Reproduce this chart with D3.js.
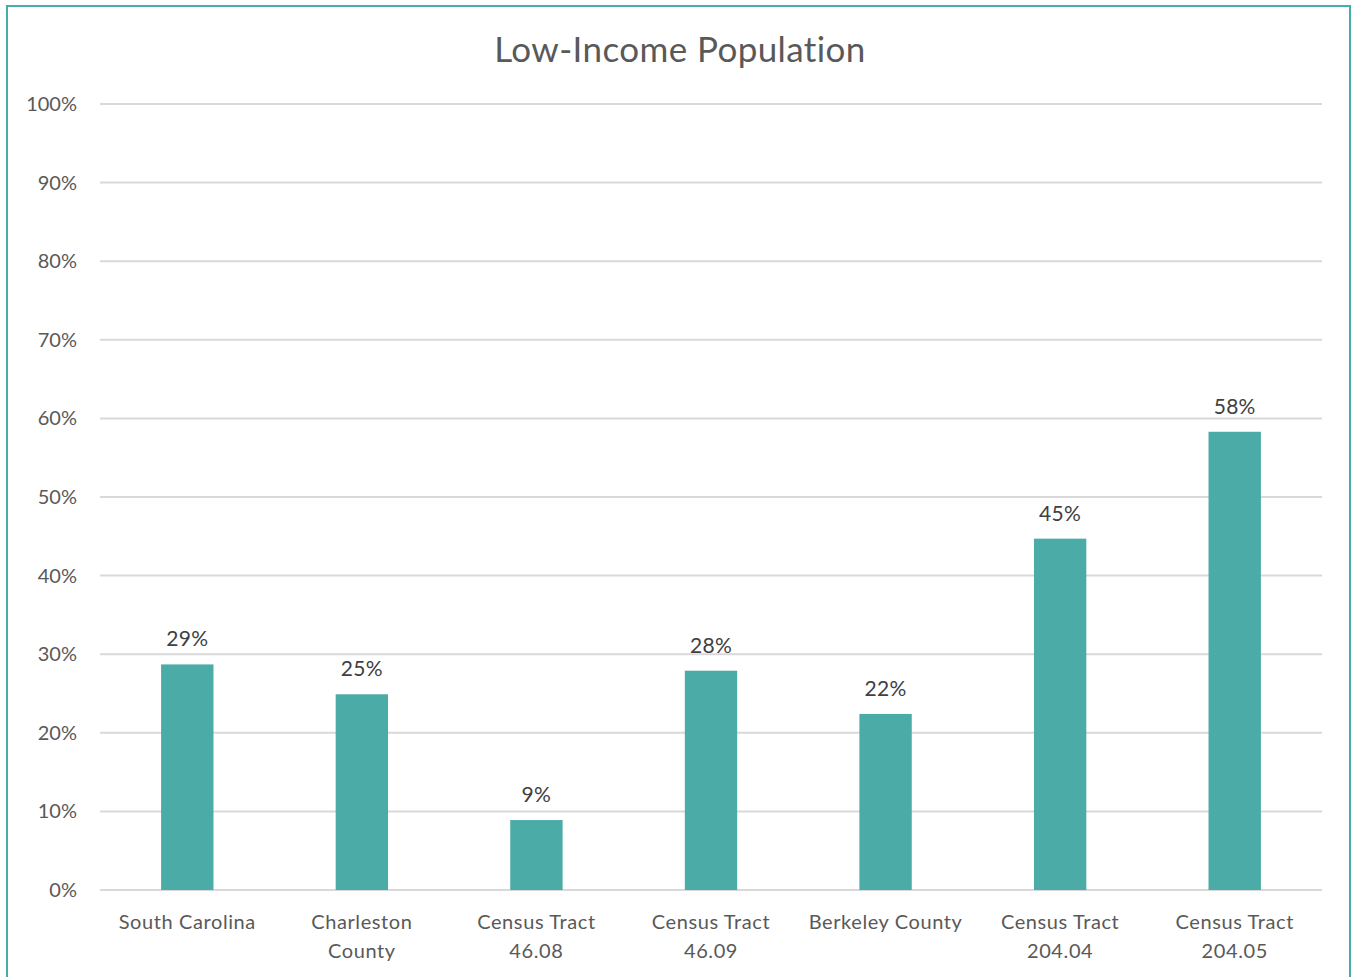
<!DOCTYPE html>
<html>
<head>
<meta charset="utf-8">
<script src="https://cdn.jsdelivr.net/npm/d3@7.9.0/dist/d3.min.js"></script>
<style>
  body { margin: 0; background: #fff; }
  svg { display: block; font-family: Lato, "Open Sans", sans-serif; font-variant-ligatures: none; }
</style>
</head>
<body>
<svg id="chart" width="1354" height="977"></svg>
<script>
// chart data
const categories = [
  ['South Carolina'],
  ['Charleston', 'County'],
  ['Census Tract', '46.08'],
  ['Census Tract', '46.09'],
  ['Berkeley County'],
  ['Census Tract', '204.04'],
  ['Census Tract', '204.05']
];
const values = [0.287, 0.249, 0.089, 0.279, 0.224, 0.447, 0.583];
const labels = ['29%', '25%', '9%', '28%', '22%', '45%', '58%'];
const yTicks = [0, 0.1, 0.2, 0.3, 0.4, 0.5, 0.6, 0.7, 0.8, 0.9, 1.0];

const svg = d3.select('#chart');
const margin = { top: 104, right: 32, bottom: 87, left: 100 };
const width = 1354 - margin.left - margin.right;
const height = 977 - margin.top - margin.bottom;

// outer frame
svg.append('rect')
  .attr('x', 7).attr('y', 6)
  .attr('width', 1343).attr('height', 980)
  .attr('fill', 'none')
  .attr('stroke', '#4aaca8')
  .attr('stroke-width', 2);

svg.append('text')
  .attr('x', 680).attr('y', 62)
  .attr('text-anchor', 'middle')
  .attr('font-size', 35)
  .attr('letter-spacing', 0.4)
  .attr('fill', '#595959')
  .text('Low-Income Population');

const g = svg.append('g').attr('transform', `translate(${margin.left},${margin.top})`);

const x = d3.scaleBand()
  .domain(d3.range(categories.length))
  .range([0, width])
  .paddingInner(0.7)
  .paddingOuter(0.35);

const y = d3.scaleLinear().domain([0, 1]).range([height, 0]);

// gridlines
g.append('g')
  .selectAll('line')
  .data(yTicks)
  .join('line')
  .attr('x1', 0).attr('x2', width)
  .attr('y1', d => y(d)).attr('y2', d => y(d))
  .attr('stroke', '#d9d9d9')
  .attr('stroke-width', 2);

// y axis labels
const yAxis = g.append('g')
  .call(d3.axisLeft(y).tickValues(yTicks).tickFormat(d3.format('.0%')).tickSize(0).tickPadding(23));
yAxis.select('.domain').remove();
yAxis.selectAll('text')
  .attr('font-size', 20)
  .attr('font-family', 'Lato, sans-serif')
  .attr('fill', '#595959');

// bars
g.selectAll('rect.bar')
  .data(values)
  .join('rect')
  .attr('class', 'bar')
  .attr('x', (d, i) => x(i))
  .attr('y', d => y(d))
  .attr('width', x.bandwidth())
  .attr('height', d => y(0) - y(d))
  .attr('fill', '#4aaba7');

// data labels
g.selectAll('text.val')
  .data(values)
  .join('text')
  .attr('class', 'val')
  .attr('x', (d, i) => x(i) + x.bandwidth() / 2)
  .attr('y', d => y(d) - 18)
  .attr('text-anchor', 'middle')
  .attr('font-size', 21)
  .attr('letter-spacing', 0.3)
  .attr('fill', '#404040')
  .text((d, i) => labels[i]);

// category labels
const cat = g.selectAll('text.cat')
  .data(categories)
  .join('text')
  .attr('class', 'cat')
  .attr('text-anchor', 'middle')
  .attr('font-size', 20)
  .attr('fill', '#595959')
  .attr('letter-spacing', 0.6);
cat.selectAll('tspan')
  .data((d, i) => d.map(t => ({ t, i })))
  .join('tspan')
  .attr('x', d => x(d.i) + x.bandwidth() / 2)
  .attr('y', (d, j) => height + 39 + j * 29)
  .text(d => d.t);
</script>
</body>
</html>
